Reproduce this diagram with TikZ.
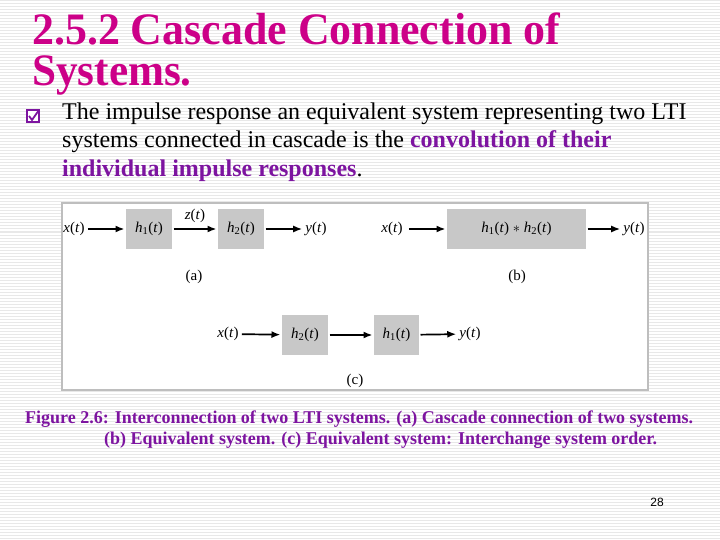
\documentclass[tikz,border=0pt]{standalone}
\usepackage{fontspec}
\setmainfont{Liberation Serif}
\newfontfamily\numfont{Liberation Sans}
\usepackage{graphicx}
\usetikzlibrary{arrows.meta, positioning}

\definecolor{titlemag}{RGB}{204,0,136}
\definecolor{hlpurple}{RGB}{125,20,160}
\definecolor{boxgray}{RGB}{200,200,200}
\definecolor{framegray}{RGB}{190,190,190}

\newcommand{\sig}[1]{\textit{#1}(\textit{t})}
\newcommand{\hsys}[1]{\textit{h}\textsubscript{#1}(\textit{t})}

\begin{document}
\begin{tikzpicture}[x=1pt, y=-1pt,
    blk/.style={fill=boxgray, minimum height=40pt, inner sep=0pt, outer sep=1.5pt,
                font=\fontsize{15}{17}\selectfont},
    lbl/.style={inner sep=3pt, font=\fontsize{15}{17}\selectfont},
    sig/.style={-{Latex[length=9pt, width=7pt]}, line width=1.7pt}]
  \useasboundingbox (0,0) rectangle (720,540);
  % slide background
  \fill[white] (0,0) rectangle (720,540);
  \foreach \yy in {1,4,...,540}
    \draw[black!9, line width=1pt] (0,\yy) -- (720,\yy);

  % title
  \node[anchor=base west, inner sep=0pt, text=titlemag] (title1) at (32,45)
    {\resizebox{528pt}{\height}{\fontsize{45}{48}\selectfont\bfseries 2.5.2 Cascade Connection of}};
  \node[anchor=base west, inner sep=0pt, text=titlemag] (title2) at (32,86)
    {\scalebox{0.96}[1]{\fontsize{45}{48}\selectfont\bfseries Systems.}};

  % bullet text
  \node[draw=hlpurple, fill=white, line width=1.4pt, minimum size=12pt, inner sep=0pt] (tick) at (33,116) {};
  \draw[hlpurple, line width=1.8pt] ([shift={(-4pt,0pt)}]tick.center)
    -- ([shift={(-1pt,-4pt)}]tick.center) -- ([shift={(6pt,6pt)}]tick.center);
  \node[anchor=base west, inner sep=0pt, font=\fontsize{24}{28}\selectfont] (line1) at (62,120)
    {The impulse response an equivalent system representing two LTI};
  \node[anchor=base west, inner sep=0pt, font=\fontsize{24}{28}\selectfont] (line2) at (62,148)
    {systems connected in cascade is the \textcolor{hlpurple}{\bfseries convolution of their}};
  \node[anchor=base west, inner sep=0pt, font=\fontsize{24}{28}\selectfont] (line3) at (62,177)
    {\textcolor{hlpurple}{\bfseries individual impulse responses}.};

  % figure frame
  \draw[framegray, line width=2.5pt, fill=white] (62,203) rectangle (648,390);

  % (a) cascade
  \node[lbl] (xa) at (74,229) {\sig{x}};
  \node[blk, minimum width=46pt] (h1a) at (149,229) {\hsys{1}};
  \node[blk, minimum width=46pt] (h2a) at (241,229) {\hsys{2}};
  \node[lbl] (ya) at (316,229) {\sig{y}};
  \draw[sig] (xa) -- (h1a);
  \draw[sig] (h1a) -- node[above, lbl, yshift=2pt] {\sig{z}} (h2a);
  \draw[sig] (h2a) -- (ya);
  \node[lbl] (capa) at (194,277) {(a)};

  % (b) equivalent
  \node[lbl, inner sep=6pt] (xb) at (392,229) {\sig{x}};
  \node[blk, minimum width=139pt] (hb) at (516.5,229) {\hsys{1} $*$ \hsys{2}};
  \node[lbl] (yb) at (634,229) {\sig{y}};
  \draw[sig] (xb) -- (hb);
  \draw[sig] (hb) -- (yb);
  \node[lbl] (capb) at (517,277) {(b)};

  % (c) interchanged order
  \node[lbl] (xc) at (228,334) {\sig{x}};
  \node[blk, minimum width=46pt] (h2c) at (305,335) {\hsys{2}};
  \node[blk, minimum width=45pt] (h1c) at (396.5,335) {\hsys{1}};
  \node[lbl] (yc) at (470,334) {\sig{y}};
  \draw[sig] (xc) -- (h2c);
  \draw[sig] (h2c) -- (h1c);
  \draw[sig] (h1c) -- (yc);
  \node[lbl] (capc) at (355,381) {(c)};

  % caption
  \node[anchor=base west, inner sep=0pt, text=hlpurple] (cap1) at (25,423)
    {\resizebox{668pt}{\height}{\fontsize{18}{20}\selectfont\bfseries Figure 2.6: Interconnection of two LTI systems. (a) Cascade connection of two systems.}};
  \node[anchor=base west, inner sep=0pt, text=hlpurple] (cap2) at (104,444)
    {\resizebox{553pt}{\height}{\fontsize{18}{20}\selectfont\bfseries (b) Equivalent system. (c) Equivalent system: Interchange system order.}};

  % page number
  \node[inner sep=0pt, font=\fontsize{12}{14}\selectfont\numfont] (page) at (657,502) {28};
\end{tikzpicture}
\end{document}
